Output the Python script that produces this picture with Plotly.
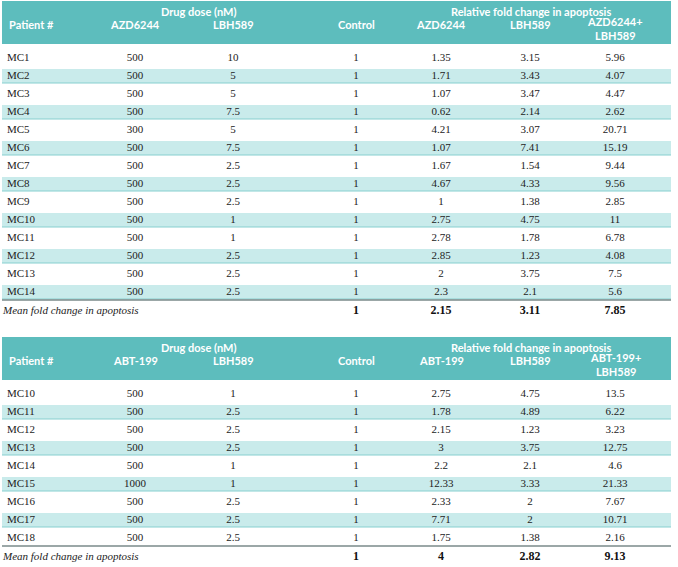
import plotly.graph_objects as go

# ---------------- data ----------------
patients1 = ["MC1", "MC2", "MC3", "MC4", "MC5", "MC6", "MC7", "MC8", "MC9", "MC10", "MC11", "MC12", "MC13", "MC14"]
azd_dose = [500, 500, 500, 500, 300, 500, 500, 500, 500, 500, 500, 500, 500, 500]
lbh_dose1 = [10, 5, 5, 7.5, 5, 7.5, 2.5, 2.5, 2.5, 1, 1, 2.5, 2.5, 2.5]
control1 = [1] * 14
azd_fc = [1.35, 1.71, 1.07, 0.62, 4.21, 1.07, 1.67, 4.67, 1, 2.75, 2.78, 2.85, 2, 2.3]
lbh_fc1 = [3.15, 3.43, 3.47, 2.14, 3.07, 7.41, 1.54, 4.33, 1.38, 4.75, 1.78, 1.23, 3.75, 2.1]
combo1 = [5.96, 4.07, 4.47, 2.62, 20.71, 15.19, 9.44, 9.56, 2.85, 11, 6.78, 4.08, 7.5, 5.6]
means1 = [1, 2.15, 3.11, 7.85]

patients2 = ["MC10", "MC11", "MC12", "MC13", "MC14", "MC15", "MC16", "MC17", "MC18"]
abt_dose = [500, 500, 500, 500, 500, 1000, 500, 500, 500]
lbh_dose2 = [1, 2.5, 2.5, 2.5, 1, 1, 2.5, 2.5, 2.5]
control2 = [1] * 9
abt_fc = [2.75, 1.78, 2.15, 3, 2.2, 12.33, 2.33, 7.71, 1.75]
lbh_fc2 = [4.75, 4.89, 1.23, 3.75, 2.1, 3.33, 2, 2, 1.38]
combo2 = [13.5, 6.22, 3.23, 12.75, 4.6, 21.33, 7.67, 10.71, 2.16]
means2 = [1, 4, 2.82, 9.13]

headers1 = ["Patient #", "AZD6244", "LBH589", "Control", "AZD6244", "LBH589", "AZD6244+<br>LBH589"]
headers2 = ["Patient #", "ABT-199", "LBH589", "Control", "ABT-199", "LBH589", "ABT-199+<br>LBH589"]
group_titles = ["Drug dose (nM)", "Relative fold change in apoptosis"]
mean_label = "Mean fold change in apoptosis"

# ---------------- style ----------------
HEAD = "#5DBDBD"
BAND = "#C9EBEB"
BAND_LINE = "#86CFCF"
SERIF = "Liberation Serif"
SANS = "Lato, Liberation Sans, sans-serif"
X_LEFT, X_RIGHT = 2, 671
COLX = [7, 135, 233, 356, 441, 530, 615]
GROUPX = [198, 531]
PITCH = 18

fig = go.Figure()
shapes = []
annotations = []


def fmt(v):
    return f"{v:g}"


def draw_table(top, headers, patients, cols, means):
    hb = top + 43
    shapes.append(dict(type="rect", xref="x", yref="y", x0=X_LEFT, x1=X_RIGHT, y0=top, y1=hb,
                       fillcolor=HEAD, line_width=0, layer="below"))
    hf = dict(family=SANS, size=11, color="white")
    for gx, gt in zip(GROUPX, group_titles):
        annotations.append(dict(x=gx, y=top + 10, xref="x", yref="y", text=f"<b>{gt}</b>",
                                showarrow=False, font=hf, xanchor="center", yanchor="middle"))
    for i, h in enumerate(headers):
        if i == 0:
            annotations.append(dict(x=COLX[0], y=top + 23, xref="x", yref="y", text=f"<b>{h}</b>",
                                    showarrow=False, font=hf, xanchor="left", yanchor="middle"))
        elif "<br>" in h:
            annotations.append(dict(x=COLX[i], y=top + 27, xref="x", yref="y", text=f"<b>{h}</b>",
                                    showarrow=False, font=hf, xanchor="center", yanchor="middle",
                                    align="center"))
        else:
            annotations.append(dict(x=COLX[i], y=top + 23, xref="x", yref="y", text=f"<b>{h}</b>",
                                    showarrow=False, font=hf, xanchor="center", yanchor="middle"))
    y0 = hb + 14
    ys = [y0 + PITCH * k for k in range(len(patients))]
    for k, y in enumerate(ys):
        if k % 2 == 1:
            shapes.append(dict(type="rect", xref="x", yref="y", x0=X_LEFT, x1=X_RIGHT,
                               y0=y - 7, y1=y + 7, fillcolor=BAND, line_width=0, layer="below"))
            shapes.append(dict(type="line", xref="x", yref="y", x0=X_LEFT, x1=X_RIGHT,
                               y0=y + 7, y1=y + 7, line=dict(color=BAND_LINE, width=1), layer="below"))
    bf = dict(family=SERIF, size=11, color="#222222")
    fig.add_trace(go.Scatter(x=[COLX[0]] * len(patients), y=ys, text=patients, mode="text",
                             textposition="middle right", textfont=bf, hoverinfo="skip"))
    for ci, col in enumerate(cols):
        fig.add_trace(go.Scatter(x=[COLX[ci + 1]] * len(col), y=ys, text=[fmt(v) for v in col],
                                 mode="text", textposition="middle center", textfont=bf,
                                 hoverinfo="skip"))
    ly = ys[-1] + 8
    shapes.append(dict(type="line", xref="x", yref="y", x0=X_LEFT, x1=X_RIGHT, y0=ly, y1=ly,
                       line=dict(color="#7a8a8a", width=1.3)))
    my = ly + 11
    fig.add_trace(go.Scatter(x=[COLX[0] - 4], y=[my], text=[f"<i>{mean_label}</i>"], mode="text",
                             textposition="middle right",
                             textfont=dict(family=SERIF, size=11, color="#222222"), hoverinfo="skip"))
    fig.add_trace(go.Scatter(x=COLX[3:7], y=[my] * 4, text=[f"<b>{fmt(v)}</b>" for v in means],
                             mode="text", textposition="middle center",
                             textfont=dict(family=SERIF, size=12, color="#111111"), hoverinfo="skip"))


draw_table(1, headers1, patients1, [azd_dose, lbh_dose1, control1, azd_fc, lbh_fc1, combo1], means1)
draw_table(337, headers2, patients2, [abt_dose, lbh_dose2, control2, abt_fc, lbh_fc2, combo2], means2)

fig.update_layout(
    width=678, height=567, autosize=False,
    margin=dict(l=0, r=0, t=0, b=0),
    paper_bgcolor="white", plot_bgcolor="white",
    showlegend=False,
    xaxis=dict(range=[0, 678], visible=False, fixedrange=True),
    yaxis=dict(range=[567, 0], visible=False, fixedrange=True),
    shapes=shapes, annotations=annotations,
)
fig.write_html("out.html", config={"displayModeBar": False},
               post_script="document.body.style.margin='0';document.body.style.overflow='hidden';")
